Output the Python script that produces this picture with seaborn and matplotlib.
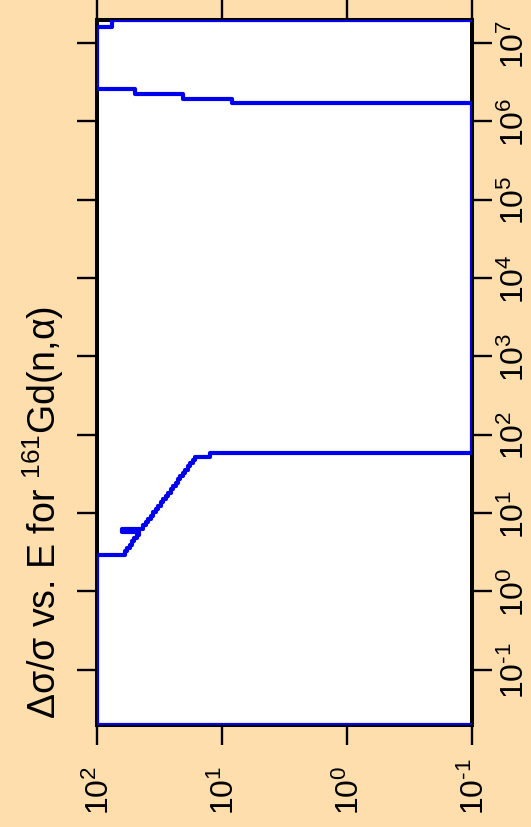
import numpy as np
import pandas as pd
import matplotlib
matplotlib.use("Agg")
import matplotlib.pyplot as plt
import matplotlib.transforms as mtransforms
import seaborn as sns

# ---- data ----
energy_eV = [0.02, 0.02, 2.95, 3.25, 3.58, 3.95, 4.35, 4.79, 5.28, 5.80,
             6.34, 6.98, 7.68, 8.46, 9.31, 10.25, 11.29, 12.43, 13.69, 15.07,
             16.59, 18.26, 20.11, 22.14, 24.38, 26.84, 29.55, 32.54, 35.83, 39.45,
             43.42, 47.8, 52.7, 59.3, 1.71e6, 1.96e6, 2.23e6, 2.58e6, 1.6e7, 2.0e7]
rel_unc = [0.1, 100, 59.7, 57.2, 54.8, 52.6, 50.4, 48.3, 46.3, 63.0,
           42.9, 40.9, 39.1, 37.3, 35.6, 34.0, 32.5, 31.0, 29.6, 28.3,
           27.0, 25.8, 24.7, 23.5, 22.5, 21.5, 20.5, 19.6, 18.7, 17.9,
           17.1, 16.3, 12.5, 0.1, 8.36, 20.4, 49.7, 100, 75.9, 0.1]

unc_ticks = [1e2, 1e1, 1e0, 1e-1]
unc_tick_labels = ["$10^{2}$", "$10^{1}$", "$10^{0}$", r"$10^{\text{-}1}$"]
e_ticks = [1e-1, 1e0, 1e1, 1e2, 1e3, 1e4, 1e5, 1e6, 1e7]
e_tick_labels = [r"$10^{\text{-}1}$", "$10^{0}$", "$10^{1}$", "$10^{2}$", "$10^{3}$",
                 "$10^{4}$", "$10^{5}$", "$10^{6}$", "$10^{7}$"]
title_text = "Δσ/σ vs. E for $^{161}$Gd(n,α)"

df = pd.DataFrame({"E": energy_eV, "rel": rel_unc})

# ---- style ----
plt.rcParams["font.family"] = ["Liberation Sans", "DejaVu Sans"]
plt.rcParams["mathtext.fontset"] = "custom"
plt.rcParams["mathtext.rm"] = "Liberation Sans"
plt.rcParams["mathtext.it"] = "Liberation Sans:italic"
plt.rcParams["mathtext.bf"] = "Liberation Sans:bold"
plt.rcParams["mathtext.default"] = "regular"

W, H, DPI = 531, 828, 100
bg = "#FFDEAD"
blue = "#0000EE"

fig = plt.figure(figsize=(W / DPI, H / DPI), dpi=DPI, facecolor=bg)
ax = fig.add_axes([97 / W, (H - 725.5) / H, 375 / W, 705 / H])
ax.set_facecolor("white")
ax.set_xscale("log")
ax.set_yscale("log")

sns.lineplot(data=df, x="rel", y="E", sort=False, estimator=None,
             drawstyle="steps-pre", color=blue, linewidth=3.0, ax=ax)
for ln in ax.lines:
    ln.set_zorder(3)

ax.set_xlim(100, 0.1)
ax.set_ylim(0.02, 2e7)
ax.set_xlabel("")
ax.set_ylabel("")

for sp in ax.spines.values():
    sp.set_linewidth(2.9)
    sp.set_color("black")

ax.set_xticks(unc_ticks)
ax.set_yticks(e_ticks)
ax.xaxis.set_minor_locator(matplotlib.ticker.NullLocator())
ax.yaxis.set_minor_locator(matplotlib.ticker.NullLocator())
ax.tick_params(which="major", direction="out", length=14.4, width=1.7,
               color="black", top=True, right=True, bottom=True, left=True,
               labelbottom=False, labelleft=False, labeltop=False, labelright=False)

fs_tick = 23
# bottom labels (relative uncertainty), rotated
tb = mtransforms.blended_transform_factory(ax.transData, fig.transFigure)
tb = tb + mtransforms.ScaledTranslation(12 / DPI, 0, fig.dpi_scale_trans)
for v, lab in zip(unc_ticks, unc_tick_labels):
    fig.text(v, 13 / H, lab, transform=tb, rotation=90, rotation_mode="anchor",
             ha="left", va="baseline", fontsize=fs_tick, color="black")

# right labels (energy), rotated
tr = mtransforms.blended_transform_factory(fig.transFigure, ax.transData)
for v, lab in zip(e_ticks, e_tick_labels):
    fig.text(524 / W, v, lab, transform=tr, rotation=90, rotation_mode="anchor",
             ha="center", va="baseline", fontsize=fs_tick, color="black")

# title, rotated on the left
fig.text(56 / W, (H - 512) / H, title_text, rotation=90, rotation_mode="anchor",
         ha="center", va="baseline", fontsize=27, color="black")

fig.savefig("out.png", dpi=DPI, facecolor=bg)
